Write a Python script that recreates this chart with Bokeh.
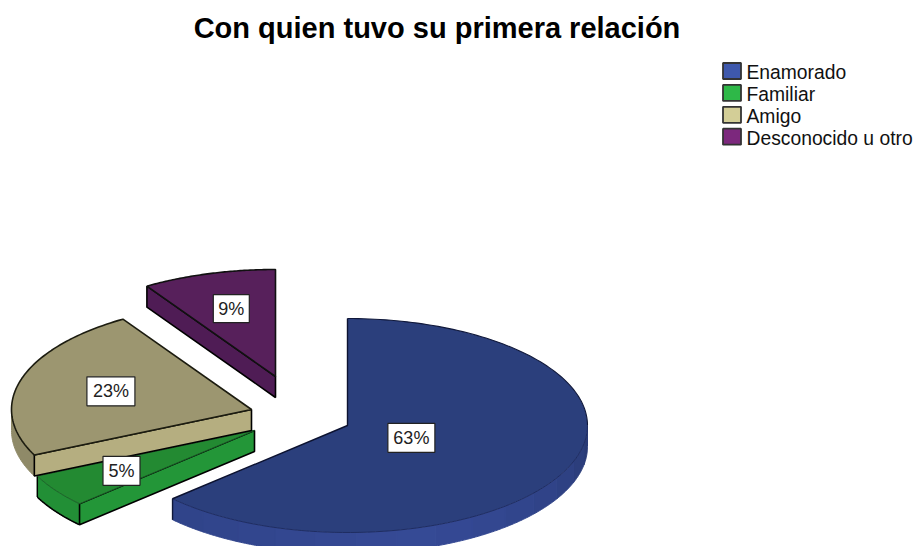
import numpy as np
from bokeh.plotting import figure
from bokeh.models import Range1d
from bokeh.core.properties import value
from bokeh.embed import file_html
from bokeh.resources import INLINE

title = "Con quien tuvo su primera relación"
categories = ["Enamorado", "Familiar", "Amigo", "Desconocido u otro"]
percent = [63, 5, 23, 9]
labels = ["63%", "5%", "23%", "9%"]

legend_colors = ["#3e58ac", "#2eb848", "#d3ce97", "#7c287d"]
top_colors = ["#2b3f7c", "#238a32", "#9c9670", "#57205b"]
radial_colors = ["#32468f", "#239638", "#b5ae80", "#4f1c55"]
arc_colors = ["#32468f", "#228f36", "#8f8a68", "#4f1c55"]

RX, RY, DEPTH = 240, 107, 21
apex = [(347, 425), (254, 430), (251, 409), (275, 376)]
label_frac = [0.29, 0.67, 0.61, 0.66]
label_box = [(47, 29), (37, 29), (48, 29), (36, 28)]

W, H = 919, 546
p = figure(width=W, height=H, output_backend="svg", toolbar_location=None,
           x_range=Range1d(0, W), y_range=Range1d(H, 0), min_border=0,
           outline_line_color=None, background_fill_color="white", border_fill_color="white")
p.axis.visible = False
p.grid.visible = False

ends = np.cumsum(percent) * 3.6
starts = np.concatenate([[0], ends[:-1]])


def arc(k, a, b, n=70):
    t = np.radians(np.linspace(a, b, n))
    return apex[k][0] + RX * np.sin(t), apex[k][1] - RY * np.cos(t)


def side_band(k, a, b, color):
    x, y = arc(k, a, b, 24)
    p.patch(np.concatenate([x, x[::-1]]), np.concatenate([y, y[::-1] + DEPTH]),
            fill_color=color, line_color=color, line_width=1)


def radial_side(k, ang, color):
    x, y = arc(k, ang, ang, 1)
    ax, ay = apex[k]
    p.patch([ax, x[0], x[0], ax], [ay, y[0], y[0] + DEPTH, ay + DEPTH],
            fill_color=color, line_color="black", line_width=1.6)


def top_face(k, lw, col):
    x, y = arc(k, starts[k], ends[k])
    ax, ay = apex[k]
    p.patch(np.concatenate([[ax], x]), np.concatenate([[ay], y]),
            fill_color=top_colors[k], line_color=col, line_width=lw)


# Familiar
k = 1
side_band(k, starts[k], ends[k], arc_colors[k])
x, y = arc(k, starts[k], ends[k])
p.line(x, y + DEPTH, line_color="black", line_width=1.6)
p.line([x[-1], x[-1]], [y[-1], y[-1] + DEPTH], line_color="black", line_width=1.4)
radial_side(k, starts[k], radial_colors[k])
top_face(k, 1.0, "#1a5a26")

# Amigo
k = 2
side_band(k, starts[k], 270, arc_colors[k])
radial_side(k, starts[k], radial_colors[k])
top_face(k, 1.6, "#1c1c10")

# Desconocido u otro
k = 3
radial_side(k, starts[k], radial_colors[k])
top_face(k, 1.6, "#111111")

# Enamorado
k = 0
band = np.linspace(90, ends[k], 15)
shades = ["#293a75", "#2c3e7c", "#2e4183", "#304388", "#31458c", "#334790", "#344893",
          "#354a95", "#354994", "#344892", "#334790", "#32468e", "#31458c", "#30448a"]
for a, b, c in zip(band[:-1], band[1:], shades):
    side_band(k, a, b, c)
x, y = arc(k, ends[k], ends[k], 1)
p.line([x[0], x[0]], [y[0], y[0] + DEPTH], line_color="#10183a", line_width=1.4)
top_face(k, 0.01, top_colors[k])
x, y = arc(k, 0, 90)
p.line(x, y, line_color="#10183a", line_width=1.1)
x, y = arc(k, 90, ends[k])
p.line(x, y, line_color="#1f2d62", line_width=1.0)
x, y = arc(k, ends[k], ends[k], 1)
p.line([x[0], apex[k][0], apex[k][0]], [y[0], apex[k][1], apex[k][1] - RY],
       line_color="#0c1230", line_width=1.4)

# labels
for k, lab in enumerate(labels):
    mid = np.radians((starts[k] + ends[k]) / 2)
    cx = apex[k][0] + RX * label_frac[k] * np.sin(mid)
    cy = apex[k][1] - RY * label_frac[k] * np.cos(mid)
    bw, bh = label_box[k]
    p.rect([cx], [cy], width=bw, height=bh, fill_color="white", line_color="#222222", line_width=1.2)
    p.text([cx], [cy], text=[lab], text_font=value("Liberation Sans"), text_font_size="18px",
           text_color="#222222", text_align="center", text_baseline="middle")

p.text([436.5], [27], text=[title], text_font=value("Liberation Sans"), text_font_size="29px",
       text_font_style="bold", text_color="black", text_align="center", text_baseline="middle")

# legend
for i, (cat, c) in enumerate(zip(categories, legend_colors)):
    yc = 70.5 + 21.9 * i
    p.rect([731.5], [yc], width=18, height=16, fill_color=c, line_color="#333333", line_width=1.8)
    p.text([746], [yc + 1.5], text=[cat], text_font=value("Liberation Sans"), text_font_size="19.3px",
           text_color="#111111", text_align="left", text_baseline="middle")

open("out.html", "w").write(file_html(p, INLINE))
